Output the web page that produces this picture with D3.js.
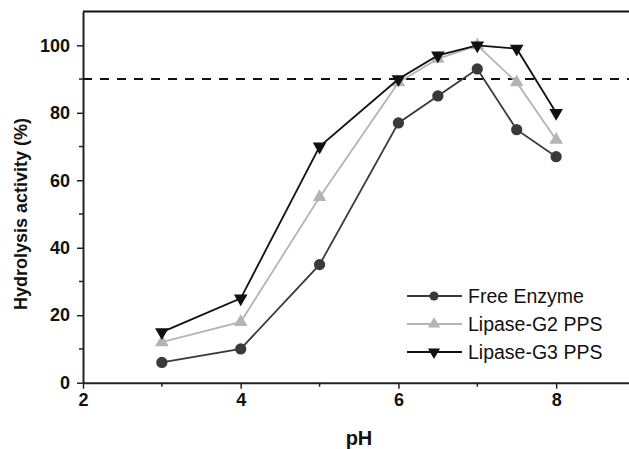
<!DOCTYPE html>
<html>
<head>
<meta charset="utf-8">
<script src="https://cdn.jsdelivr.net/npm/d3@7"></script>
<style>
  body { margin: 0; background: #fff; }
  svg { display: block; font-family: "Liberation Sans", Arial, sans-serif; }
</style>
</head>
<body>
<div id="chart"></div>
<script>
// data
let phValues = [3, 4, 5, 6, 6.5, 7, 7.5, 8];
let freeEnzyme = [6, 10, 35, 77, 85, 93, 75, 67];
let lipaseG2 = [12, 18, 55, 89, 96, 100, 89, 72];
let lipaseG3 = [15, 25, 70, 90, 97, 100, 99, 80];
let seriesNames = ["Free Enzyme", "Lipase-G2 PPS", "Lipase-G3 PPS"];
let xTicks = [2, 4, 6, 8];
let yTicks = [0, 20, 40, 60, 80, 100];
let threshold = 90;

let width = 629;
let height = 449;

let series = [
    {name: seriesNames[0], values: freeEnzyme, line: "#3a3a3a", fill: "#3a3a3a", shape: "circle"},
    {name: seriesNames[1], values: lipaseG2, line: "#b4b4b4", fill: "#b4b4b4", shape: "up"},
    {name: seriesNames[2], values: lipaseG3, line: "#111", fill: "#111", shape: "down"}
];

let svg = d3.select("#chart")
    .append("svg")
    .attr("width", width)
    .attr("height", height);

let x = d3.scaleLinear()
    .domain([2, 9])
    .range([83, 635]);

let y = d3.scaleLinear()
    .domain([0, 110])
    .range([382.7, 11.6]);

// minor ticks
let xMinor = [3, 5, 7];
let yMinor = [10, 30, 50, 70, 90];

svg.append("g")
    .selectAll("line")
    .data(xMinor)
    .join("line")
        .attr("x1", d => x(d)).attr("x2", d => x(d))
        .attr("y1", y(0)).attr("y2", y(0) + 4)
        .attr("stroke", "#222").attr("stroke-width", 1.5);

svg.append("g")
    .selectAll("line")
    .data(yMinor)
    .join("line")
        .attr("x1", x(2) - 4).attr("x2", x(2))
        .attr("y1", d => y(d)).attr("y2", d => y(d))
        .attr("stroke", "#222").attr("stroke-width", 1.5);

function xAxis(g) {
    g.attr("transform", `translate(0, ${y(0)})`)
        .call(d3.axisBottom(x).tickValues(xTicks).tickFormat(d3.format("d")).tickSize(6).tickSizeOuter(0).tickPadding(5))
        .attr("font-size", "18px")
        .attr("font-weight", "bold")
        .attr("font-family", null);
    g.select(".domain").attr("stroke", "#222").attr("stroke-width", 2);
    g.selectAll(".tick line").attr("stroke", "#222").attr("stroke-width", 1.5);
    g.selectAll(".tick text").attr("fill", "#111");
}

function yAxis(g) {
    g.attr("transform", `translate(${x(2)}, 0)`)
        .call(d3.axisLeft(y).tickValues(yTicks).tickFormat(d3.format("d")).tickSize(6).tickSizeOuter(0).tickPadding(7))
        .attr("font-size", "18px")
        .attr("font-weight", "bold")
        .attr("font-family", null);
    g.select(".domain").attr("stroke", "#222").attr("stroke-width", 2);
    g.selectAll(".tick line").attr("stroke", "#222").attr("stroke-width", 1.5);
    g.selectAll(".tick text").attr("fill", "#111");
}

svg.append("g").call(xAxis);
svg.append("g").call(yAxis);

// top frame line
svg.append("line")
    .attr("x1", x(2)).attr("x2", width)
    .attr("y1", y(110)).attr("y2", y(110))
    .attr("stroke", "#111").attr("stroke-width", 2);

// 90% dashed reference
svg.append("line")
    .attr("x1", x(2)).attr("x2", width)
    .attr("y1", y(threshold)).attr("y2", y(threshold))
    .attr("stroke", "#111").attr("stroke-width", 2)
    .attr("stroke-dasharray", "9,8");

let line = d3.line()
    .x((d, i) => x(phValues[i]))
    .y(d => y(d));

let symbolFor = {
    circle: d3.symbol().type(d3.symbolCircle).size(100),
    up: d3.symbol().type(d3.symbolTriangle).size(80),
    down: d3.symbol().type(d3.symbolTriangle).size(80)
};

series.forEach(s => {
    svg.append("path")
        .datum(s.values)
        .attr("fill", "none")
        .attr("stroke", s.line)
        .attr("stroke-width", 1.8)
        .attr("d", line);

    svg.append("g")
        .selectAll("path")
        .data(s.values)
        .join("path")
            .attr("d", symbolFor[s.shape])
            .attr("transform", (d, i) => `translate(${x(phValues[i])}, ${y(d)})` + (s.shape == "down" ? " rotate(180)" : ""))
            .attr("fill", s.fill);
});

// legend
let legend = svg.append("g").attr("transform", "translate(407, 296)");
series.forEach((s, i) => {
    let row = legend.append("g").attr("transform", `translate(0, ${i * 28})`);
    row.append("line")
        .attr("x1", 0).attr("x2", 55)
        .attr("stroke", s.line).attr("stroke-width", 1.8);
    row.append("path")
        .attr("d", d3.symbol().type(s.shape == "circle" ? d3.symbolCircle : d3.symbolTriangle).size(65))
        .attr("transform", "translate(27, 0)" + (s.shape == "down" ? " rotate(180)" : ""))
        .attr("fill", s.fill);
    row.append("text")
        .attr("x", 61)
        .attr("dy", "0.35em")
        .attr("font-size", "19.5px")
        .attr("fill", "#111")
        .text(s.name);
});

// axis titles
svg.append("text")
    .attr("x", (x(2) + x(9)) / 2)
    .attr("y", 445)
    .style("text-anchor", "middle")
    .attr("font-size", "20px")
    .attr("font-weight", "bold")
    .attr("fill", "#111")
    .text("pH");

svg.append("text")
    .attr("transform", "rotate(-90)")
    .attr("x", -214)
    .attr("y", 27)
    .style("text-anchor", "middle")
    .attr("font-size", "18px")
    .attr("font-weight", "bold")
    .attr("fill", "#111")
    .text("Hydrolysis activity (%)");
</script>
</body>
</html>
